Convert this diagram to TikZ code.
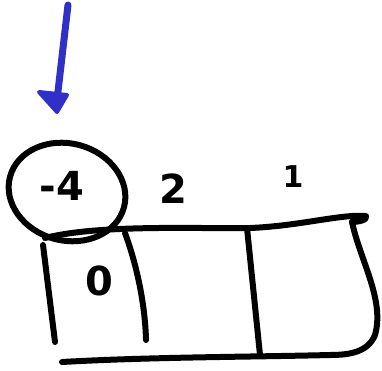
\documentclass[tikz,border=0pt]{standalone}
\usepackage{fontspec}
\setmainfont{DejaVu Sans}
\usetikzlibrary{shapes.geometric}
\definecolor{pen}{HTML}{3030C8}
\tikzset{
  ink/.style={line width=6pt, line cap=round, line join=round},
  lbl/.style={font=\bfseries\fontsize{40}{44}\selectfont, inner sep=0pt}
}
\begin{document}
\begin{tikzpicture}[x=1pt,y=-1pt]
\useasboundingbox (0,0) rectangle (382,371);
% blue arrow
\coordinate (as) at (68,5);
\coordinate (at) at (57,112);
\draw[pen, line width=7pt, line cap=round] (as) -- (57,100);
\fill[pen, line join=round, draw=pen, line width=4pt] (39,92) -- (67,95) -- (at) -- cycle;
% circle
\node[ink, draw, ellipse, rotate=-15, minimum width=118pt, minimum height=97pt, inner sep=0pt] (circ) at (67,192) {};
% labels
\node[lbl] (m4) at (62,186) {-4};
\node[lbl] (two) at (173,189) {2};
\node[lbl, font=\bfseries\fontsize{30}{34}\selectfont] (one) at (293,177) {1};
\node[lbl] (zero) at (99,281) {0};
% box
\draw[ink] (45,238) .. controls (100,224) and (200,229) .. (250,228) .. controls (300,226) and (340,214) .. (366,216) .. controls (368,220) and (358,222) .. (352,222);
\draw[ink] (352,222) .. controls (360,260) and (385,300) .. (375,335) .. controls (368,352) and (350,355) .. (330,355);
\draw[ink] (62,362) .. controls (150,357) and (250,357) .. (330,355);
\draw[ink] (43,245) -- (55,342);
\draw[ink] (125,233) .. controls (135,260) and (145,300) .. (146,340);
\draw[ink] (247,228) -- (260,355);
\end{tikzpicture}
\end{document}
